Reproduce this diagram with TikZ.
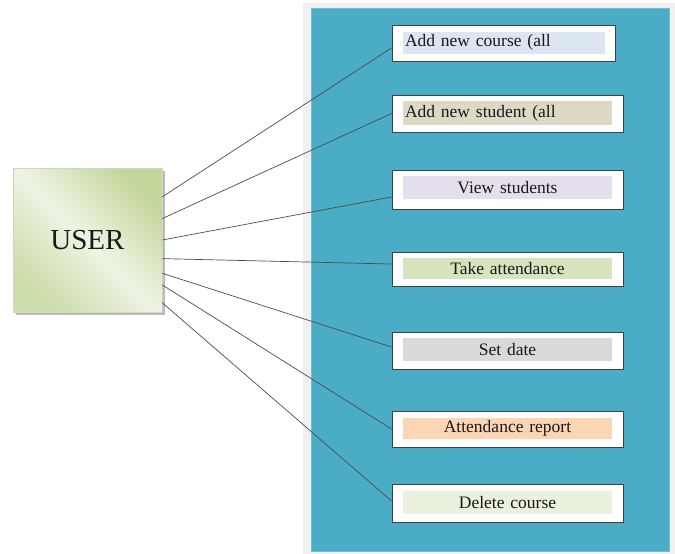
\documentclass[tikz,border=0pt]{standalone}
\usepackage{fontspec}
\setmainfont{Liberation Serif}
\usepackage{xcolor}
\usetikzlibrary{shadows}
\definecolor{panelblue}{HTML}{4BACC6}
\definecolor{usergreen}{HTML}{C3D69B}
\definecolor{userlight}{HTML}{EEF4E4}
\definecolor{fillcourse}{HTML}{DCE6F2}
\definecolor{fillstudent}{HTML}{DDD9C4}
\definecolor{fillview}{HTML}{E4DFEC}
\definecolor{filltake}{HTML}{D7E4BD}
\definecolor{filldate}{HTML}{D9D9D9}
\definecolor{fillreport}{HTML}{FCD5B5}
\definecolor{filldelete}{HTML}{EBF1DE}

\begin{document}
\begin{tikzpicture}[x=1pt, y=-1pt,
  opt/.style={draw=black!75, fill=white, line width=1pt, minimum width=231pt, minimum height=37pt, inner sep=0pt},
  lbl/.style={inner xsep=2pt, inner ysep=0pt, text width=205pt, minimum height=22pt, align=center, font=\fontsize{17.5}{20}\selectfont, text=black!90},
  link/.style={draw=black!70, line width=0.7pt}]
  \useasboundingbox (0,0) rectangle (675,554);
  % frame and panel
  \fill[black!6] (303,3) rectangle (675,554);
  \draw[panelblue!80!white, line width=0.8pt, fill=panelblue] (311,8) rectangle (669,551);
  % actor
  \node[minimum width=149pt, minimum height=144pt, inner sep=0pt, draw=usergreen!70!black!40!white, line width=0.5pt,
    top color=usergreen, bottom color=usergreen!85, middle color=userlight, shading angle=-45,
    drop shadow={shadow xshift=2.5pt, shadow yshift=-2.5pt, fill=black!45, opacity=0.6},
    font=\fontsize{29}{32}\selectfont, text=black!90] (user) at (87.5,240) {USER};
  % options
  \node[opt, minimum width=223pt, minimum height=36pt] (course) at (503.5,43) {};
  \node[lbl, fill=fillcourse, text width=198pt, align=left] (course-t) at (504,42.5) {Add new course (all};
  \node[opt] (student) at (507.5,113.5) {};
  \node[lbl, fill=fillstudent, align=left, minimum height=24pt] (student-t) at (507.5,113) {Add new student (all};
  \node[opt, minimum height=39pt] (view) at (507.5,189.5) {};
  \node[lbl, fill=fillview, minimum height=23pt] (view-t) at (507.5,187.5) {View students};
  \node[opt, minimum height=34pt] (take) at (507.5,269) {};
  \node[lbl, fill=filltake, minimum height=21pt] (take-t) at (507.5,268.5) {Take attendance};
  \node[opt] (setdate) at (507.5,350.5) {};
  \node[lbl, fill=filldate, minimum height=23pt] (setdate-t) at (507.5,349.5) {Set date};
  \node[opt, minimum height=36pt] (report) at (507.5,429) {};
  \node[lbl, fill=fillreport, minimum height=21pt] (report-t) at (507.5,428.5) {Attendance report};
  \node[opt, minimum height=38pt] (delete) at (507.5,503) {};
  \node[lbl, fill=filldelete, minimum height=23pt] (delete-t) at (507.5,502.5) {Delete course};
  % connectors
  \draw[link] (user.30.6) -- ([yshift=-5pt]course.west);
  \draw[link] (user.16.5) -- (student.west);
  \draw[link] (user.0) -- ([yshift=-7.5pt]view.west);
  \draw[link] (user.-14.3) -- ([yshift=5pt]take.west);
  \draw[link] (user.-24.5) -- ([yshift=3.5pt]setdate.west);
  \draw[link] (user.-31.7) -- (report.west);
  \draw[link] (user.-40.7) -- ([yshift=2pt]delete.west);
\end{tikzpicture}
\end{document}
